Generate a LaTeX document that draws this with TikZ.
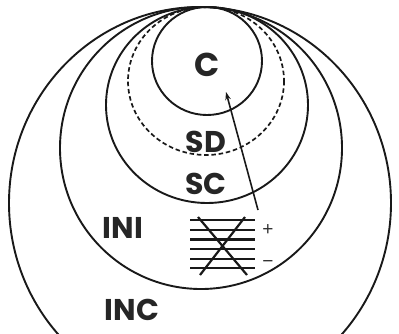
\documentclass[tikz,border=0pt]{standalone}
\usepackage{fontspec}
\setmainfont{Poppins}
\newfontfamily\signfont{Liberation Sans}
\usetikzlibrary{arrows.meta}
\begin{document}
\begin{tikzpicture}[x=1pt,y=-1pt,
  ring/.style={draw=black!90,line width=1.9pt},
  dashring/.style={ring,line width=1.7pt,dash pattern=on 4.5pt off 2.8pt},
  lbl/.style={font=\fontsize{30}{30}\selectfont\bfseries,text=black!85,inner sep=0pt},
  sign/.style={font=\signfont\fontsize{19}{19}\selectfont,text=black!80,inner sep=0pt},
  hatch/.style={draw=black!90,line width=2.2pt}]
\useasboundingbox (0,0) rectangle (399,333);
\begin{scope}
\clip (0,0) rectangle (399,333);
\draw[ring] (200,203) ellipse [x radius=191, y radius=196];
\draw[ring] (201,148) ellipse [x radius=141, y radius=141];
\draw[ring] (207,105) ellipse [x radius=101, y radius=98];
\draw[dashring] (206,81) ellipse [x radius=78, y radius=74];
\draw[ring] (207,61) ellipse [x radius=55, y radius=54];
\end{scope}
\node[lbl,font=\fontsize{33}{33}\selectfont\bfseries] (c) at (207,65) {C};
\node[lbl] (sd) at (206,142) {SD};
\node[lbl] (sc) at (206,184) {SC};
\node[lbl] (ini) at (123,228) {INI};
\node[lbl] (inc) at (132,310) {INC};
% hatch symbol
\foreach \yy in {220,230,239.5,249.3,259,268.3}{
  \draw[hatch] (190,\yy) -- (255,\yy);
}
\coordinate (dtl) at (198,217);
\coordinate (dbr) at (247,275);
\coordinate (dtr) at (245,217);
\coordinate (dbl) at (200,275);
\draw[hatch] (dtl) -- (dbr);
\draw[hatch] (dtr) -- (dbl);
\node[sign] (plus) at (268,230) {+};
\node[sign] (minus) at (268,264) {−};
\coordinate (astart) at (258,210);
\coordinate (aend) at (226,92);
\draw[line width=1.6pt,draw=black!90,-{Stealth[length=8pt,width=5.5pt]}] (astart) -- (aend);
\end{tikzpicture}
\end{document}
